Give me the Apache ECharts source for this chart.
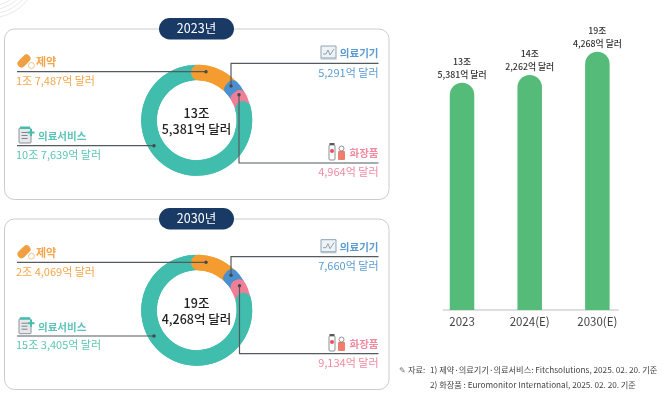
<!DOCTYPE html>
<html>
<head>
<meta charset="utf-8">
<style>
  html, body { margin: 0; padding: 0; background: #fff; }
  #chart { width: 664px; height: 395px; }
</style>
<script src="https://cdn.jsdelivr.net/npm/echarts@6/dist/echarts.min.js"></script>
</head>
<body>
<div id="chart"></div>
<script>
// 단위: 억 달러
const segmentNames = ['제약', '의료기기', '화장품', '의료서비스']
const values2023 = [17487, 5291, 4964, 107639]
const values2030 = [24069, 7660, 9134, 153405]
const labels2023 = ['1조 7,487억 달러', '5,291억 달러', '4,964억 달러', '10조 7,639억 달러']
const labels2030 = ['2조 4,069억 달러', '7,660억 달러', '9,134억 달러', '15조 3,405억 달러']
const total2023 = ['13조', '5,381억 달러']
const total2030 = ['19조', '4,268억 달러']

const barCategories = ['2023', '2024(E)', '2030(E)']
// 원본 막대는 값에 비례하지 않아서 그림에서 읽은 상대 높이(2030 = 100)를 쓴다
const barHeights = [88, 91, 100]
const barLabels = ['13조\n5,381억 달러', '14조\n2,262억 달러', '19조\n4,268억 달러']

const footnotes = [
  '1) 제약·의료기기·의료서비스: Fitchsolutions, 2025. 02. 20. 기준',
  '2) 화장품 : Euromonitor International, 2025. 02. 20. 기준',
]

const FONT = '"Noto Sans CJK KR", "Noto Sans", sans-serif'
const colors = ['#f59c30', '#4a8fce', '#ee7f97', '#41bdae']
const textColors = ['#f5a54a', '#5b9bd2', '#ef8aa0', '#5cc4b8']
const LINE = '#555a5e'

const text = (x, y, str, size, fill, extra) => ({
  type: 'text',
  x,
  y,
  silent: true,
  style: Object.assign(
    { text: str, fontSize: size, fill, fontFamily: FONT, verticalAlign: 'middle', align: 'left' },
    extra
  ),
})

const leader = (points) => [
  {
    type: 'polyline',
    silent: true,
    z: 20,
    shape: { points },
    style: { stroke: LINE, lineWidth: 1.2, fill: 'none' },
  },
  {
    type: 'circle',
    silent: true,
    z: 20,
    shape: { cx: points[points.length - 1][0], cy: points[points.length - 1][1], r: 1.7 },
    style: { fill: '#44484c' },
  },
]

// 아이콘 (단순화)
const pillIcon = (x, y) => [
  { type: 'rect', silent: true, rotation: -Math.PI / 4, x, y, originX: 0, originY: 0,
    shape: { x: -4, y: -7.5, width: 8, height: 15, r: 4 }, style: { fill: '#f0a040' } },
  { type: 'circle', silent: true, shape: { cx: x + 7.5, cy: y + 4.5, r: 3 },
    style: { fill: '#fff', stroke: '#f0a868', lineWidth: 0.7 } },
]
const docIcon = (x, y) => [
  { type: 'rect', silent: true, shape: { x, y, width: 12, height: 15, r: 1 },
    style: { fill: '#e6e8ea', stroke: '#8b9296', lineWidth: 1 } },
  { type: 'rect', silent: true, shape: { x: x + 1, y: y - 1.5, width: 10, height: 2.5 }, style: { fill: '#41bdae' } },
  { type: 'rect', silent: true, shape: { x: x + 2.5, y: y + 4, width: 6, height: 1 }, style: { fill: '#7c8488' } },
  { type: 'rect', silent: true, shape: { x: x + 2.5, y: y + 7, width: 6, height: 1 }, style: { fill: '#7c8488' } },
  { type: 'rect', silent: true, shape: { x: x + 2.5, y: y + 10, width: 6, height: 1 }, style: { fill: '#7c8488' } },
  { type: 'rect', silent: true, shape: { x: x + 11, y: y + 1, width: 2, height: 7 }, style: { fill: '#41bdae' } },
  { type: 'rect', silent: true, shape: { x: x + 8.5, y: y + 3.5, width: 7, height: 2 }, style: { fill: '#41bdae' } },
]
const monitorIcon = (x, y) => [
  { type: 'rect', silent: true, shape: { x, y, width: 15, height: 12 },
    style: { fill: '#eef3f7', stroke: '#8fa3b3', lineWidth: 1 } },
  { type: 'polyline', silent: true,
    shape: { points: [[x + 2, y + 8], [x + 5, y + 8], [x + 7, y + 4], [x + 9, y + 9], [x + 11, y + 6], [x + 13, y + 3]] },
    style: { stroke: '#7b8a96', lineWidth: 0.8, fill: 'none' } },
  { type: 'rect', silent: true, shape: { x: x - 0.5, y: y + 12, width: 16, height: 1.6 }, style: { fill: '#b8c4cc' } },
]
const cosmeticIcon = (x, y) => [
  { type: 'rect', silent: true, shape: { x, y, width: 6, height: 15, r: 1 },
    style: { fill: '#fff', stroke: '#70757a', lineWidth: 0.8 } },
  { type: 'rect', silent: true, shape: { x: x + 0.5, y: y - 2, width: 5, height: 2 }, style: { fill: '#555a5e' } },
  { type: 'circle', silent: true, shape: { cx: x + 3, cy: y + 6, r: 2 }, style: { fill: '#e8505f' } },
  { type: 'rect', silent: true, shape: { x: x + 9, y: y + 6, width: 7, height: 9, r: 1 }, style: { fill: '#ee7f6f' } },
  { type: 'circle', silent: true, shape: { cx: x + 12.5, cy: y + 3.5, r: 2.5 },
    style: { fill: '#fff', stroke: '#70757a', lineWidth: 0.8 } },
]

const panel = (top, title, labels, total, pos) => {
  const left = 4.5
  const right = 389
  return [
    { type: 'rect', silent: true, shape: { x: left, y: top, width: right - left, height: 170.5, r: 10 },
      style: { fill: '#fff', stroke: '#c9ccce', lineWidth: 1 } },
    { type: 'rect', silent: true, shape: { x: 159, y: top - 11, width: 75, height: 21.5, r: 10.7 },
      style: { fill: '#1a3a66' } },
    text(196.5, top - 0.3, title, 12.5, '#fff', { align: 'center' }),

    ...pillIcon(24, pos.pharmaTitle - 1),
    ...docIcon(19, pos.serviceTitle - 8),
    ...monitorIcon(321, pos.deviceTitle - 7),
    ...cosmeticIcon(329, pos.cosmeticTitle - 8),

    text(36, pos.pharmaTitle, segmentNames[0], 11, textColors[0], { fontWeight: 'bold' }),
    text(16, pos.pharmaValue, labels[0], 11, textColors[0]),
    text(38, pos.serviceTitle, segmentNames[3], 10.5, textColors[3], { fontWeight: 'bold' }),
    text(16, pos.serviceValue, labels[3], 11, textColors[3]),
    text(378.5, pos.deviceTitle, segmentNames[1], 10.5, textColors[1], { align: 'right', fontWeight: 'bold' }),
    text(378.5, pos.deviceValue, labels[1], 11, textColors[1], { align: 'right' }),
    text(378.5, pos.cosmeticTitle, segmentNames[2], 10.5, textColors[2], { align: 'right', fontWeight: 'bold' }),
    text(378.5, pos.cosmeticValue, labels[2], 11, textColors[2], { align: 'right' }),

    ...leader([[17, pos.pharmaLine], [206, pos.pharmaLine]]),
    ...leader([[17, pos.serviceLine], [154, pos.serviceLine]]),
    ...leader([[378.5, pos.deviceLine], [231, pos.deviceLine], [231, pos.deviceDot]]),
    ...leader([[378.5, pos.cosmeticLine], [pos.cosmeticX, pos.cosmeticLine], [pos.cosmeticX, pos.cosmeticDot]]),

    Object.assign(text(196.5, pos.total0, total[0], 12.5, '#222', { align: 'center', fontWeight: 500 }), { z: 15 }),
    Object.assign(text(196.5, pos.total1, total[1], 12.5, '#222', { align: 'center', fontWeight: 500 }), { z: 15 }),
  ]
}

const ring = (values, cy) => {
  const data = segmentNames.map((name, i) => ({
    name,
    value: values[i],
    itemStyle: { color: colors[i] },
  }))
  const base = {
    type: 'pie',
    center: [196.7, cy],
    radius: [40, 55.5],
    clockwise: true,
    silent: true,
    animation: false,
    label: { show: false },
    labelLine: { show: false },
    data,
  }
  return [
    // 아래층을 조금 돌려서 둥근 모서리 틈에 앞 조각 색이 보이게 한다
    Object.assign({}, base, { z: 3, startAngle: 91 }),
    Object.assign({}, base, {
      z: 4,
      startAngle: 97,
      itemStyle: { borderRadius: [8, 0, 8, 0] },
    }),
  ]
}

const chart = echarts.init(document.getElementById('chart'), null, { renderer: 'canvas' })

chart.setOption({
  animation: false,
  textStyle: { fontFamily: FONT },
  grid: { left: 428.2, width: 203, top: 51.7, height: 258.3, containLabel: false },
  xAxis: {
    type: 'category',
    data: barCategories,
    axisLine: { show: false },
    axisTick: { show: false },
    axisLabel: { color: '#444', fontSize: 11.5, margin: 6, fontFamily: FONT },
  },
  yAxis: { type: 'value', min: 0, max: 100, show: false },
  series: [
    {
      type: 'bar',
      data: barHeights,
      barWidth: 24.5,
      z: 5,
      silent: true,
      itemStyle: { color: '#55bb78', borderRadius: [12.2, 12.2, 0, 0] },
      label: {
        show: true,
        position: 'top',
        distance: 1.5,
        color: '#333',
        fontSize: 8.8,
        fontWeight: 500,
        lineHeight: 13,
        fontFamily: FONT,
        formatter: (p) => barLabels[p.dataIndex],
      },
    },
    ...ring(values2023, 120.3),
    ...ring(values2030, 310.3),
  ],
  graphic: {
    elements: [
      // 왼쪽 위 장식 곡선
      ...[36, 40, 44, 48].map((r) => ({
        type: 'arc',
        silent: true,
        shape: { cx: -10, cy: -30, r, startAngle: 0.4, endAngle: 1.7 },
        style: { stroke: '#dcdfe1', lineWidth: 0.7, fill: 'none' },
      })),
      ...panel(29, '2023년', labels2023, total2023, {
        pharmaTitle: 62, pharmaValue: 81, pharmaLine: 71.7,
        serviceTitle: 136, serviceValue: 155, serviceLine: 145.7,
        deviceTitle: 53, deviceValue: 73, deviceLine: 63.3, deviceDot: 86,
        cosmeticTitle: 153, cosmeticValue: 172, cosmeticLine: 163, cosmeticDot: 94.7, cosmeticX: 239,
        total0: 113, total1: 129,
      }),
      ...panel(219, '2030년', labels2030, total2030, {
        pharmaTitle: 252.7, pharmaValue: 271.7, pharmaLine: 262.3,
        serviceTitle: 326.7, serviceValue: 345, serviceLine: 336,
        deviceTitle: 246.7, deviceValue: 266, deviceLine: 256.7, deviceDot: 275.3,
        cosmeticTitle: 344, cosmeticValue: 363, cosmeticLine: 353.7, cosmeticDot: 285.7, cosmeticX: 239.5,
        total0: 303, total1: 319,
      }),
      // 막대 기준선
      { type: 'line', silent: true, shape: { x1: 442.7, y1: 310, x2: 618.7, y2: 310 },
        style: { stroke: '#bdbfc1', lineWidth: 1 } },
      // 각주
      text(399, 370, '✎', 8, '#777'),
      text(408, 370, '자료:', 8.2, '#444'),
      text(430, 370, footnotes[0], 8.2, '#444'),
      text(430, 385, footnotes[1], 8.2, '#444'),
    ],
  },
})

window.onresize = function () {
  chart.resize()
}
</script>
</body>
</html>
